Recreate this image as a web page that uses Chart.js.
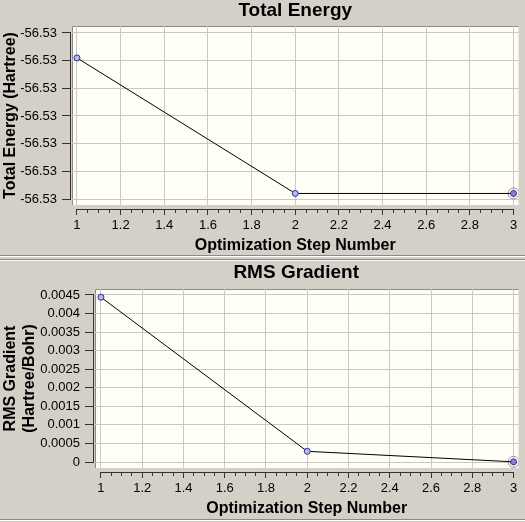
<!DOCTYPE html>
<html>
<head>
<meta charset="utf-8">
<script src="https://cdn.jsdelivr.net/npm/chart.js@4.4.1/dist/chart.umd.min.js"></script>
<style>
  html, body { margin: 0; padding: 0; background: #d4d0c8; width: 525px; height: 522px; overflow: hidden; }
  canvas { position: absolute; left: 0; }
  .sep { position: absolute; left: 0; width: 525px; height: 1px; }
</style>
</head>
<body>
<div class="sep" style="top:255px;background:#8c8a84"></div>
<div class="sep" style="top:256px;background:#ffffff"></div>
<div class="sep" style="top:259px;background:#8c8a84"></div>
<div class="sep" style="top:260px;background:#ffffff"></div>
<div class="sep" style="top:519px;background:#8c8a84"></div>
<div class="sep" style="top:520px;background:#ffffff"></div>
<canvas id="energyChart" width="525" height="255" style="top:0"></canvas>
<canvas id="gradChart" width="525" height="258" style="top:261px"></canvas>
<script>
// data
const steps = [1, 2, 3];
const totalEnergy = [-56.530009, -56.530058, -56.530058];
const rmsGradient = [0.00444, 0.000288, 0.000005];
const selectedStep = 2; // index of the highlighted point

// tick values
const stepTicks = [1, 1.2, 1.4, 1.6, 1.8, 2, 2.2, 2.4, 2.6, 2.8, 3];
const minorPerMajor = 4;
const energyTicks = [-56.53000, -56.53001, -56.53002, -56.53003, -56.53004, -56.53005, -56.53006];
const gradientTicks = [0.0045, 0.004, 0.0035, 0.003, 0.0025, 0.002, 0.0015, 0.001, 0.0005, 0];

const FONT = "'Liberation Sans', Arial, sans-serif";
const TICK_FONT = { family: FONT, size: 13 };

// major ticks plus the small ones between them
function withMinor(majors, n) {
  const out = [];
  for (let i = 0; i < majors.length; i++) {
    out.push({ value: majors[i], isMajor: true });
    if (i < majors.length - 1) {
      const d = (majors[i + 1] - majors[i]) / n;
      for (let k = 1; k < n; k++) out.push({ value: majors[i] + d * k, isMajor: false });
    }
  }
  return out;
}

// plot background and the axis lines that stand off the plot
const plotFrame = {
  id: 'plotFrame',
  beforeDraw(chart) {
    const { ctx, chartArea: a } = chart;
    ctx.save();
    ctx.fillStyle = '#fffff6';
    ctx.fillRect(a.left, a.top, a.right - a.left, a.bottom - a.top);
    ctx.strokeStyle = '#8a8a8a';
    ctx.lineWidth = 1;
    ctx.beginPath();
    ctx.moveTo(a.left + 0.5, a.bottom);
    ctx.lineTo(a.left + 0.5, a.top + 0.5);
    ctx.lineTo(a.right, a.top + 0.5);
    ctx.stroke();
    ctx.restore();
  },
  afterDraw(chart) {
    const { ctx, chartArea: a, scales } = chart;
    const x = scales.x, y = scales.y;
    const px = v => Math.round(x.getPixelForValue(v) - 0.5) + 0.5;
    const py = v => Math.round(y.getPixelForValue(v) - 0.5) + 0.5;
    const xt = x.ticks, yt = y.ticks;
    ctx.save();
    ctx.strokeStyle = '#333333';
    ctx.lineWidth = 1;
    ctx.beginPath();
    const by = Math.round(a.bottom) + 4.5;
    ctx.moveTo(px(xt[0].value) - 0.5, by);
    ctx.lineTo(px(xt[xt.length - 1].value) + 0.5, by);
    const lx = Math.round(a.left) - 1.5;
    ctx.moveTo(lx, py(yt[0].value) - 0.5);
    ctx.lineTo(lx, py(yt[yt.length - 1].value) + 0.5);
    ctx.stroke();
    ctx.restore();
  }
};

function makeChart(id, opt) {
  const xTicks = withMinor(stepTicks, minorPerMajor);
  const yStep = Math.abs(opt.yTicks[0] - opt.yTicks[1]);
  const yHi = Math.max(...opt.yTicks), yLo = Math.min(...opt.yTicks);
  const xSpan = stepTicks[stepTicks.length - 1] - stepTicks[0];

  return new Chart(document.getElementById(id), {
    type: 'line',
    data: {
      labels: steps,
      datasets: [{
        data: steps.map((s, i) => ({ x: s, y: opt.values[i] })),
        borderColor: '#000000',
        borderWidth: 1,
        tension: 0,
        pointRadius: 3,
        pointBorderWidth: 1,
        pointBorderColor: steps.map((s, i) => i === selectedStep ? '#3b2d8f' : '#2d2d9e'),
        pointBackgroundColor: steps.map((s, i) => i === selectedStep ? '#8c7ad6' : '#b8b8f0')
      }, {
        // ring around the selected point
        data: steps.map((s, i) => ({ x: s, y: i === selectedStep ? opt.values[i] : null })),
        showLine: false,
        pointRadius: 5.5,
        pointBorderWidth: 1,
        pointBorderColor: '#b77fb7',
        pointBackgroundColor: 'rgba(0,0,0,0)'
      }]
    },
    options: {
      responsive: false,
      animation: false,
      layout: { padding: { left: 0, right: 3, top: 0, bottom: 0 } },
      plugins: {
        legend: { display: false },
        tooltip: { enabled: false },
        title: {
          display: true,
          text: opt.title,
          fullSize: false,
          color: '#000000',
          font: { family: FONT, size: 19, weight: 'bold', lineHeight: 1.1 },
          padding: opt.titlePad
        }
      },
      scales: {
        x: {
          type: 'linear',
          bounds: 'data',
          min: stepTicks[0] - xSpan * opt.xPad[0],
          max: stepTicks[stepTicks.length - 1] + xSpan * opt.xPad[1],
          afterBuildTicks: s => { s.ticks = xTicks.map(t => ({ ...t })); },
          afterFit: s => { s.height = opt.xHeight; },
          border: { display: false },
          grid: {
            color: c => (c.tick && c.tick.isMajor) ? '#c8c8c8' : 'rgba(0,0,0,0)',
            borderDash: [4, 3],
            tickLength: 10,
            tickColor: '#333333',
            tickBorderDash: c => (c.tick && c.tick.isMajor) ? [0, 4, 6, 100] : [0, 4, 4, 100]
          },
          ticks: {
            autoSkip: false,
            maxRotation: 0,
            padding: 3,
            color: '#000000',
            font: TICK_FONT,
            callback: function (v, i, ticks) {
              return ticks[i].isMajor ? String(+v.toFixed(1)) : '';
            }
          },
          title: {
            display: true,
            text: 'Optimization Step Number',
            color: '#000000',
            font: { family: FONT, size: 16, weight: 'bold', lineHeight: 1.2 },
            padding: { top: 0, bottom: opt.xTitlePad }
          }
        },
        y: {
          type: 'linear',
          bounds: 'data',
          min: yLo - yStep * opt.yPad[1],
          max: yHi + yStep * opt.yPad[0],
          afterBuildTicks: s => { s.ticks = opt.yTicks.map(v => ({ value: v })); },
          afterFit: s => { s.width = opt.yWidth; },
          border: { display: false },
          grid: {
            color: '#c8c8c8',
            borderDash: [4, 3],
            tickLength: 10,
            tickColor: '#333333',
            tickBorderDash: [8, 100]
          },
          ticks: {
            padding: 5,
            color: '#000000',
            font: TICK_FONT,
            callback: opt.yFormat
          },
          title: {
            display: true,
            text: opt.yTitle,
            color: '#000000',
            font: { family: FONT, size: 16, weight: 'bold', lineHeight: 1.2 },
            padding: { top: 1, bottom: 0 }
          }
        }
      }
    },
    plugins: [plotFrame]
  });
}

makeChart('energyChart', {
  title: 'Total Energy',
  titlePad: { top: 0, bottom: 5.1 },
  values: totalEnergy,
  yTicks: energyTicks,
  yFormat: v => v.toFixed(2),
  yTitle: 'Total Energy (Hartree)',
  yWidth: 72,
  xHeight: 50,
  xTitlePad: 0,
  xPad: [5 / 440, 5 / 440],
  yPad: [7 / 27.67, 6 / 27.67]
});

// title sits at the same x as the one above, so pad it on the right
makeChart('gradChart', {
  title: 'RMS Gradient    ',
  titlePad: { top: 1, bottom: 6.1 },
  values: rmsGradient,
  yTicks: gradientTicks,
  yFormat: v => String(+v.toFixed(4)),
  yTitle: ['RMS Gradient', '(Hartree/Bohr)'],
  yWidth: 95,
  xHeight: 51,
  xTitlePad: 1,
  xPad: [6 / 416, 5 / 416],
  yPad: [6 / 18.56, 6 / 18.56]
});
</script>
</body>
</html>
